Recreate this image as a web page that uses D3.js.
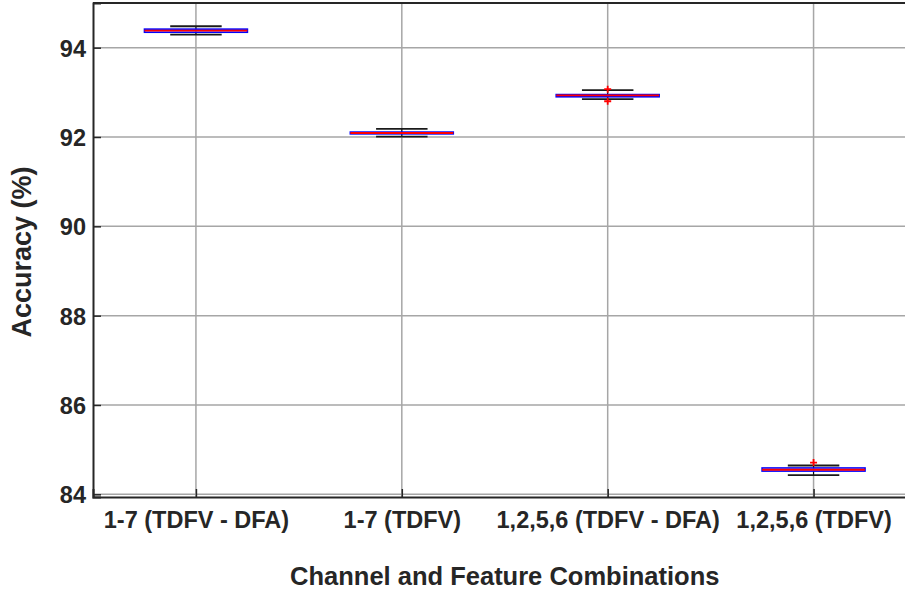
<!DOCTYPE html>
<meta charset="utf-8">
<script src="https://d3js.org/d3.v7.min.js"></script>
<style>
  body { margin: 0; background: #fff; }
  text { font-family: "Liberation Sans", Arial, Helvetica, sans-serif; font-weight: bold; fill: #262626; }
</style>
<svg id="chart" width="905" height="600"></svg>
<script>
// box plot summary (accuracy %)
const groups   = ["1-7 (TDFV - DFA)", "1-7 (TDFV)", "1,2,5,6 (TDFV - DFA)", "1,2,5,6 (TDFV)"];
const whiskLo  = [94.29, 92.01, 92.85, 84.43];
const q1       = [94.345, 92.07, 92.90, 84.52];
const medians  = [94.38, 92.09, 92.93, 84.55];
const q3       = [94.415, 92.11, 92.95, 84.59];
const whiskHi  = [94.48, 92.18, 93.05, 84.645];
const outliers = [[], [], [93.07, 92.80], [84.71]];
const yTicks   = [84, 86, 88, 90, 92, 94];

const svg = d3.select("#chart");
const mLeft = 93, mRight = 916.5, mTop = 3, mBottom = 497;

// x in boxplot units (1..4), like the original plotting tool
const x = d3.scaleLinear().domain([0.5, 4.5]).range([mLeft, mRight]);
const y = d3.scaleLinear().domain([83.94, 95]).range([mBottom, mTop]);
const idx = groups.map((d, i) => i + 1);

// grid
svg.append("g").selectAll("line").data(yTicks).join("line")
    .attr("x1", mLeft).attr("x2", mRight)
    .attr("y1", d => y(d)).attr("y2", d => y(d))
    .attr("stroke", "#a6a6a6").attr("stroke-width", 1.5);
svg.append("g").selectAll("line").data(idx).join("line")
    .attr("x1", d => x(d)).attr("x2", d => x(d))
    .attr("y1", mTop).attr("y2", mBottom)
    .attr("stroke", "#a6a6a6").attr("stroke-width", 1.5);

// axes (ticks pointing inward)
const yAxis = svg.append("g").attr("transform", `translate(${mLeft},0)`)
    .call(d3.axisLeft(y).tickValues(yTicks).tickSize(-8).tickPadding(7));
const xAxis = svg.append("g").attr("transform", `translate(0,${mBottom})`)
    .call(d3.axisBottom(x).tickValues(idx).tickSize(-8).tickPadding(14)
        .tickFormat(d => groups[d - 1]));
[yAxis, xAxis].forEach(g => {
  g.select(".domain").attr("stroke", "#262626").attr("stroke-width", 2);
  g.selectAll(".tick line").attr("stroke", "#262626").attr("stroke-width", 1.5);
  g.selectAll("text").attr("fill", "#262626").style("font-size", "23.5px")
      .style("font-family", "'Liberation Sans', Arial, sans-serif").style("font-weight", "bold");
});
yAxis.selectAll("text").attr("dy", "0.36em");
// top border
svg.append("line").attr("x1", mLeft).attr("x2", mRight)
    .attr("y1", mTop).attr("y2", mTop)
    .attr("stroke", "#262626").attr("stroke-width", 2);

// boxes
const bw = 0.25, cw = 0.125;
const box = svg.append("g").selectAll("g").data(idx).join("g");
// whiskers
box.append("line").attr("x1", d => x(d)).attr("x2", d => x(d))
    .attr("y1", d => y(whiskHi[d - 1])).attr("y2", d => y(q3[d - 1]))
    .attr("stroke", "#000").attr("stroke-dasharray", "4,2");
box.append("line").attr("x1", d => x(d)).attr("x2", d => x(d))
    .attr("y1", d => y(whiskLo[d - 1])).attr("y2", d => y(q1[d - 1]))
    .attr("stroke", "#000").attr("stroke-dasharray", "4,2");
// caps
[whiskHi, whiskLo].forEach(arr => {
  box.append("line").attr("x1", d => x(d - cw)).attr("x2", d => x(d + cw))
      .attr("y1", d => y(arr[d - 1])).attr("y2", d => y(arr[d - 1]))
      .attr("stroke", "#1a1a1a").attr("stroke-width", 1.8);
});
box.append("rect")
    .attr("x", d => x(d - bw)).attr("width", d => x(d + bw) - x(d - bw))
    .attr("y", d => y(q3[d - 1])).attr("height", d => y(q1[d - 1]) - y(q3[d - 1]))
    .attr("fill", "none").attr("stroke", "#0000ff").attr("stroke-width", 1.6);
box.append("line").attr("x1", d => x(d - bw)).attr("x2", d => x(d + bw))
    .attr("y1", d => y(medians[d - 1])).attr("y2", d => y(medians[d - 1]))
    .attr("stroke", "#ff0000").attr("stroke-width", 1.8);
// outliers as red plus signs
const pts = outliers.flatMap((arr, i) => arr.map(v => ({ g: i + 1, v })));
svg.append("g").selectAll("path").data(pts).join("path")
    .attr("d", d => `M${x(d.g) - 3.5},${y(d.v)}h7M${x(d.g)},${y(d.v) - 3.5}v7`)
    .attr("stroke", "#ff0000").attr("stroke-width", 1.8);

// axis titles
svg.append("text").attr("x", (mLeft + mRight) / 2).attr("y", 585)
    .attr("text-anchor", "middle").style("font-size", "25.5px")
    .text("Channel and Feature Combinations");
svg.append("text").attr("transform", "translate(31,252) rotate(-90)")
    .attr("text-anchor", "middle").style("font-size", "27px")
    .text("Accuracy (%)");
</script>
